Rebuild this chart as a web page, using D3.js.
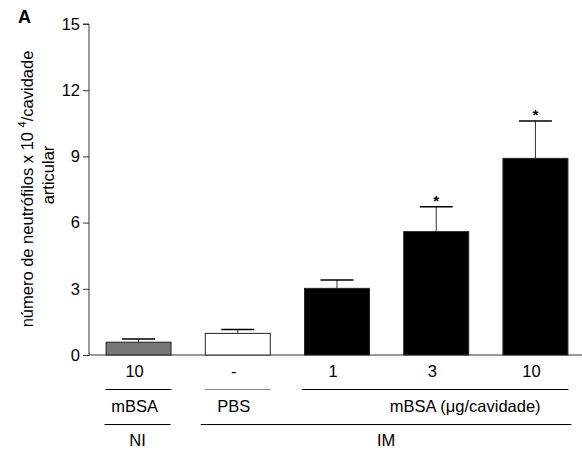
<!DOCTYPE html>
<html><head><meta charset="utf-8">
<script src="https://cdn.jsdelivr.net/npm/d3@7"></script>
<style>body{margin:0;background:#fff}svg{display:block;font-family:"Liberation Sans",Arial,sans-serif}</style>
</head><body><svg id="c" width="582" height="455"></svg>
<script>
const categories = ["10", "-", "1", "3", "10"];
const means = [0.58, 0.98, 3.02, 5.59, 8.91];
const errors = [0.14, 0.17, 0.38, 1.13, 1.69];
const fills = ["#777777", "#ffffff", "#000000", "#000000", "#000000"];
const significant = [false, false, false, true, true];
const yTicks = [0, 3, 6, 9, 12, 15];

const svg = d3.select("#c");
const x = d3.scaleBand().domain(d3.range(categories.length)).range([89, 585]).paddingInner(0.335).paddingOuter(0.167);
const y = d3.scaleLinear().domain([0, 15]).range([355, 24]);

// y axis
const ya = svg.append("g").attr("transform", "translate(89,0)")
  .call(d3.axisLeft(y).tickValues(yTicks).tickSize(6).tickPadding(3));
ya.select(".domain").attr("stroke", "#333").attr("d", `M-6,${y(15)}H0V${y(0)}`);
ya.selectAll(".tick line").attr("stroke", "#333");
ya.selectAll(".tick text").attr("font-size", 16.5).attr("font-family", "Liberation Sans, Arial, sans-serif").attr("fill", "#000");

// x axis baseline
svg.append("line").attr("x1", 89).attr("x2", 582).attr("y1", y(0)).attr("y2", y(0)).attr("stroke", "#333");

// error bars
const eb = svg.append("g");
means.forEach((m, i) => {
  const cx = x(i) + x.bandwidth() / 2;
  eb.append("line").attr("x1", cx).attr("x2", cx).attr("y1", y(m)).attr("y2", y(m + errors[i])).attr("stroke", "#333").attr("stroke-width", 1);
  eb.append("line").attr("x1", cx - 16.5).attr("x2", cx + 16.5).attr("y1", y(m + errors[i])).attr("y2", y(m + errors[i])).attr("stroke", "#000").attr("stroke-width", 1.5);
  if (significant[i]) {
    svg.append("text").attr("x", cx).attr("y", y(m + errors[i]) - 1).attr("text-anchor", "middle").attr("font-size", 15).attr("font-weight", "bold").text("*");
  }
});

// bars
svg.append("g").selectAll("rect").data(means).join("rect")
  .attr("x", (d, i) => x(i) + 0.5).attr("width", x.bandwidth() - 1)
  .attr("y", d => y(d)).attr("height", d => y(0) - y(d))
  .attr("fill", (d, i) => fills[i]).attr("stroke", "#222").attr("stroke-width", 1);

// category labels
svg.append("g").selectAll("text").data(categories).join("text")
  .attr("x", (d, i) => x(i) + x.bandwidth() / 2 - 4).attr("y", 377)
  .attr("text-anchor", "middle").attr("font-size", 16.5).text(d => d);

// group lines & labels
const l1 = [[x(0), x(0) + x.bandwidth(), "#000", "mBSA", 0], [x(1), x(1) + x.bandwidth(), "#888", "PBS", 0], [x(2) - 2, x(4) + x.bandwidth(), "#000", "mBSA (\u03bcg/cavidade)", 34]];
l1.forEach(([a, b, c, t, off]) => {
  svg.append("line").attr("x1", a).attr("x2", b).attr("y1", 389.5).attr("y2", 389.5).attr("stroke", c);
  svg.append("text").attr("x", (a + b) / 2 - 4 + off).attr("y", 412).attr("text-anchor", "middle").attr("font-size", 16.5).text(t);
});
const l2 = [[x(0) - 1, x(0) + x.bandwidth() - 1, "NI"], [x(1) - 4, x(4) + x.bandwidth() + 3, "IM"]];
l2.forEach(([a, b, t]) => {
  svg.append("line").attr("x1", a).attr("x2", b).attr("y1", 424.5).attr("y2", 424.5).attr("stroke", "#000");
  svg.append("text").attr("x", (a + b) / 2).attr("y", 446).attr("text-anchor", "middle").attr("font-size", 16.5).text(t);
});

// y label
const yl = svg.append("text").attr("transform", "translate(33,189) rotate(-90)").attr("text-anchor", "middle").attr("font-size", 16.5);
yl.append("tspan").text("número de neutrófilos x 10 ");
yl.append("tspan").attr("dy", -7).attr("font-size", 11).text("4");
yl.append("tspan").attr("dy", 7).text("/cavidade");
svg.append("text").attr("transform", "translate(54,175) rotate(-90)").attr("text-anchor", "middle").attr("font-size", 16.5).text("articular");

// panel letter
svg.append("text").attr("x", 18).attr("y", 23).attr("font-size", 18).attr("font-weight", "bold").text("A");
</script></body></html>
